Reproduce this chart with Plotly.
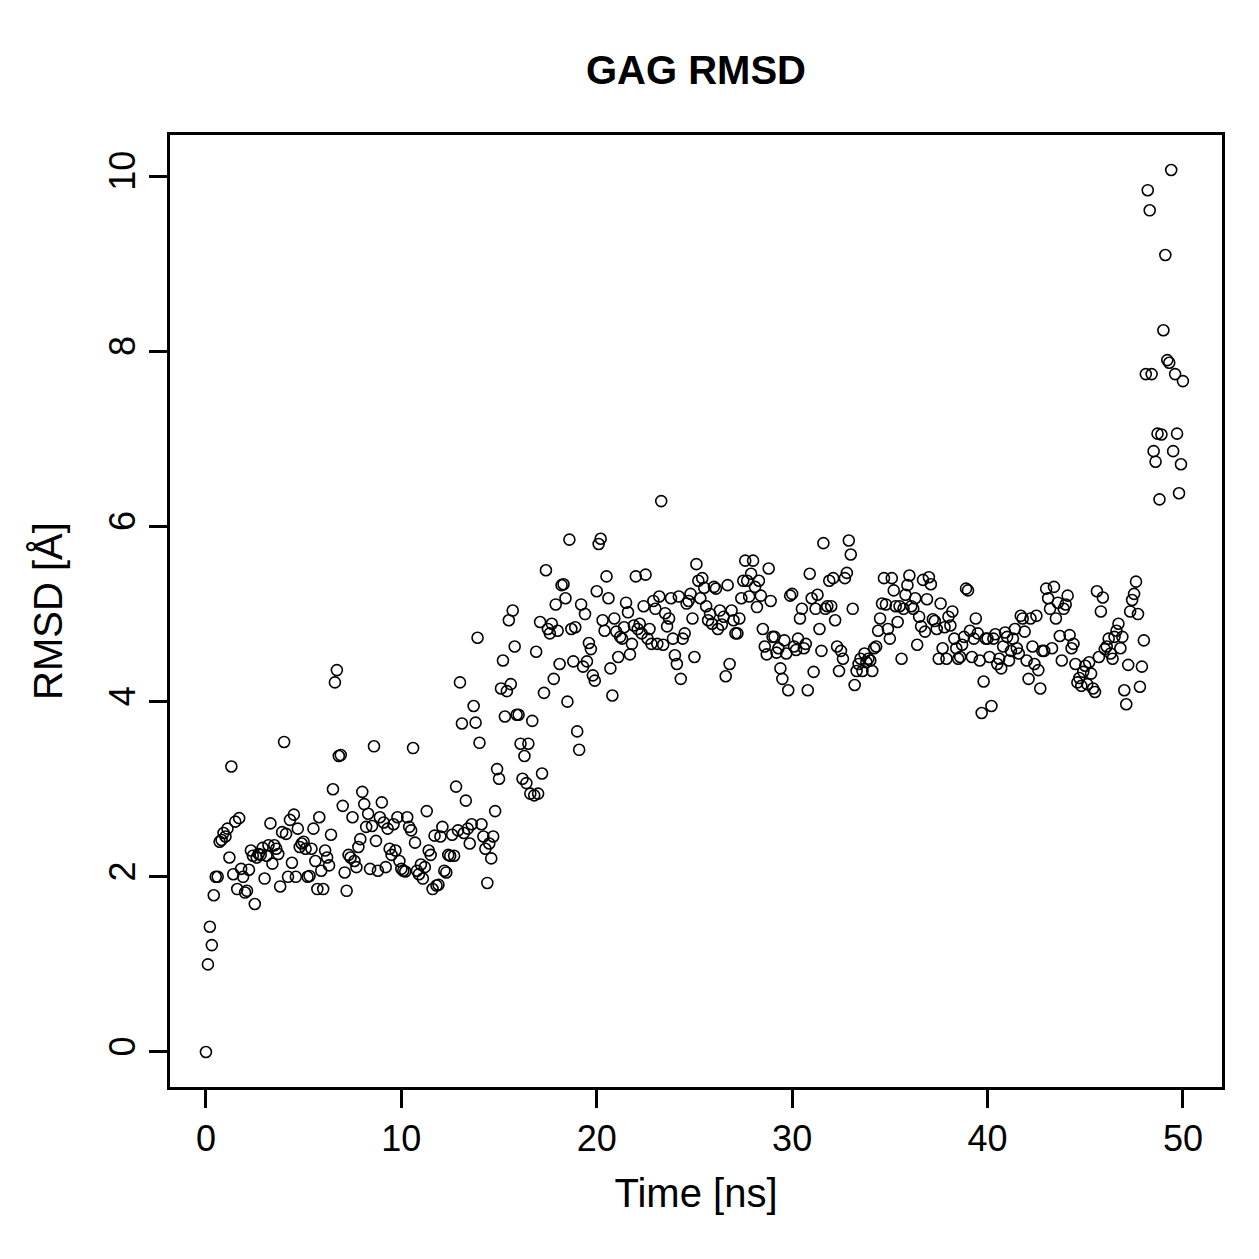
import plotly.graph_objects as go

# RMSD values (Å), one sample every 0.1 ns from 0 to 50 ns in order
seg01 = [0.00, 1.00, 1.43, 1.22, 1.79, 2.00, 2.00, 2.40, 2.42, 2.50,
         2.46, 2.55, 2.22, 3.26, 2.03, 2.63, 1.86, 2.67, 2.09, 2.00,
         1.82, 1.84, 2.08, 2.30, 2.24, 1.69, 2.22, 2.26, 2.25, 2.33,
         1.98, 2.24, 2.36, 2.61, 2.15, 2.36, 2.32, 2.26, 1.89, 2.51,
         3.54, 2.49, 2.00, 2.65, 2.16, 2.71, 2.00, 2.55, 2.34, 2.38, 2.40]
seg02 = [2.32, 2.00, 2.01, 2.32, 2.55, 2.18, 1.86, 2.68, 2.07, 1.86,
         2.30, 2.22, 2.13, 2.48, 3.00, 4.22, 4.36, 3.38, 3.39, 2.81,
         2.05, 1.84, 2.25, 2.22, 2.68, 2.18, 2.11, 2.34, 2.43, 2.97,
         2.83, 2.57, 2.72, 2.09, 2.58, 3.49, 2.41, 2.07, 2.68, 2.85, 2.62]
seg03 = [2.11, 2.55, 2.32, 2.25, 2.60, 2.30, 2.68, 2.18, 2.09, 2.07,
         2.06, 2.68, 2.57, 2.53, 3.47, 2.39, 2.07, 2.03, 2.14, 1.98,
         2.11, 2.75, 2.30, 2.25, 1.86, 2.47, 1.90, 1.91, 2.46, 2.57,
         2.07, 2.05, 2.25, 2.24, 2.48, 2.24, 3.03, 2.53, 4.22, 3.75, 2.50]
seg04 = [2.87, 2.55, 2.38, 2.60, 3.95, 3.76, 4.73, 3.53, 2.60, 2.46,
         2.32, 1.93, 2.38, 2.21, 2.46, 2.75, 3.23, 3.12, 4.15, 4.47,
         3.83, 4.12, 4.93, 4.20, 5.04, 4.63, 3.85, 3.85, 3.52, 3.12,
         3.38, 3.07, 3.52, 2.95, 3.78, 2.93, 4.57, 2.95, 4.91, 3.18, 4.10]
seg05 = [5.50, 4.83, 4.78, 4.89, 4.26, 5.11, 4.81, 4.43, 5.33, 5.34,
         5.18, 4.00, 5.85, 4.83, 4.46, 4.85, 3.66, 3.45, 5.11, 4.40,
         5.00, 4.46, 4.67, 4.60, 4.30, 4.24, 5.26, 5.80, 5.86, 4.93,
         4.81, 5.43, 5.18, 4.38, 4.07, 4.95, 4.80, 4.51, 4.74, 4.72, 4.85]
seg06 = [5.13, 5.02, 4.54, 4.66, 4.87, 5.43, 4.83, 4.89, 4.78, 5.09,
         5.45, 4.72, 4.83, 4.66, 5.15, 5.06, 4.66, 5.20, 6.29, 4.65,
         5.01, 4.86, 4.95, 5.18, 4.72, 4.53, 4.43, 5.20, 4.26, 4.72,
         4.78, 5.12, 5.15, 5.23, 4.95, 4.51, 5.57, 5.38, 5.18, 5.41, 5.30]
seg07 = [5.09, 4.93, 5.00, 4.89, 5.31, 5.29, 4.83, 5.04, 4.88, 4.97,
         4.29, 5.33, 4.43, 5.04, 4.93, 4.78, 4.78, 4.95, 5.18, 5.38,
         5.61, 5.38, 5.20, 5.46, 5.61, 5.31, 5.08, 5.38, 5.21, 4.83,
         4.63, 4.54, 5.52, 5.15, 4.74, 4.74, 4.56, 4.61, 4.38, 4.26, 4.70]
seg08 = [4.55, 4.13, 5.21, 5.23, 4.63, 4.59, 4.72, 4.95, 5.06, 4.61,
         4.66, 4.13, 5.46, 5.18, 4.34, 5.06, 5.22, 4.83, 4.58, 5.81,
         5.06, 5.09, 5.38, 5.09, 5.41, 4.93, 4.63, 4.35, 4.58, 4.49,
         5.41, 5.47, 5.84, 5.68, 5.06, 4.19, 4.35, 4.43, 4.49, 4.35, 4.55]
seg09 = [4.45, 4.49, 4.47, 4.35, 4.61, 4.63, 4.81, 4.95, 5.12, 5.41,
         5.11, 4.83, 4.72, 5.41, 5.27, 5.09, 4.91, 5.09, 4.49, 5.06,
         5.22, 5.33, 5.44, 5.09, 5.06, 5.18, 4.65, 4.97, 4.86, 5.39,
         4.80, 5.17, 5.42, 5.34, 4.94, 4.92, 4.83, 4.49, 5.12, 4.61, 4.85]
seg10 = [4.49, 4.97, 4.87, 5.03, 4.72, 4.61, 4.49, 4.51, 4.65, 4.74,
         5.29, 5.27, 4.81, 4.51, 4.72, 4.95, 4.78, 4.47, 3.87, 4.23,
         4.72, 4.72, 4.51, 3.95, 4.72, 4.77, 4.43, 4.49, 4.38, 4.63,
         4.79, 4.74, 4.47, 4.58, 4.72, 4.83, 4.61, 4.55, 4.98, 4.95, 4.80]
seg11 = [4.47, 4.26, 4.95, 4.63, 4.43, 4.98, 4.36, 4.15, 4.58, 4.58,
         5.29, 5.18, 5.06, 4.61, 5.31, 4.95, 5.13, 4.75, 4.47, 5.06,
         5.11, 5.21, 4.76, 4.61, 4.66, 4.43, 4.22, 4.27, 4.18, 4.34,
         4.41, 4.20, 4.45, 4.32, 4.15, 4.11, 5.26, 4.51, 5.03, 5.19, 4.60]
seg12 = [4.63, 4.72, 4.55, 4.49, 4.74, 4.81, 4.89, 4.61, 4.74, 4.13,
         3.97, 4.42, 5.03, 5.16, 5.23, 5.37, 5.00, 4.17, 4.40, 4.70]
seg13 = [7.74, 9.84, 9.61, 7.74, 6.86, 6.74, 7.06, 6.31, 7.05, 8.24,
         9.10, 7.90, 7.87, 10.07, 6.86, 7.74, 7.06, 6.38, 6.71, 7.66]

rmsd = (seg01 + seg02 + seg03 + seg04 + seg05 + seg06 + seg07
        + seg08 + seg09 + seg10 + seg11 + seg12 + seg13)
time_step_ns = 0.1
time_ns = [round(i * time_step_ns, 1) for i in range(len(rmsd))]

x_ticks = [0, 10, 20, 30, 40, 50]
y_ticks = [0, 2, 4, 6, 8, 10]

FONT = "Liberation Sans, Arial, Helvetica, sans-serif"

fig = go.Figure()
fig.add_trace(go.Scatter(
    x=time_ns, y=rmsd, mode="markers",
    marker=dict(symbol="circle-open", size=11, color="black",
                line=dict(color="black", width=1.6)),
    showlegend=False, hoverinfo="x+y",
))

fig.update_layout(
    width=1259, height=1259,
    margin=dict(l=170, r=37, t=135, b=172),
    paper_bgcolor="white", plot_bgcolor="white",
    font=dict(family=FONT, color="black", size=36),
    title=dict(text="<b>GAG RMSD</b>", x=(170 + 1222) / 2 / 1259, xanchor="center",
               y=1 - 70 / 1259, yanchor="middle",
               font=dict(family=FONT, size=40, color="black")),
)
fig.update_xaxes(
    range=[-1.84, 52.0], tickvals=x_ticks, ticktext=[str(v) for v in x_ticks],
    showgrid=False, zeroline=False,
    showline=True, mirror=True, linecolor="black", linewidth=2.5,
    ticks="outside", ticklen=18, tickwidth=2.5, tickcolor="black",
    tickfont=dict(size=36),
    title=dict(text="Time [ns]", font=dict(size=40), standoff=22),
)
fig.update_yaxes(
    range=[-0.40, 10.47], tickvals=y_ticks, ticktext=[str(v) for v in y_ticks],
    showgrid=False, zeroline=False,
    showline=True, mirror=True, linecolor="black", linewidth=2.5,
    ticks="outside", ticklen=18, tickwidth=2.5, tickcolor="black",
    tickangle=-90, tickfont=dict(size=36),
    title=dict(text="RMSD [Å]", font=dict(size=40), standoff=27),
)

fig.write_html("out.html")
